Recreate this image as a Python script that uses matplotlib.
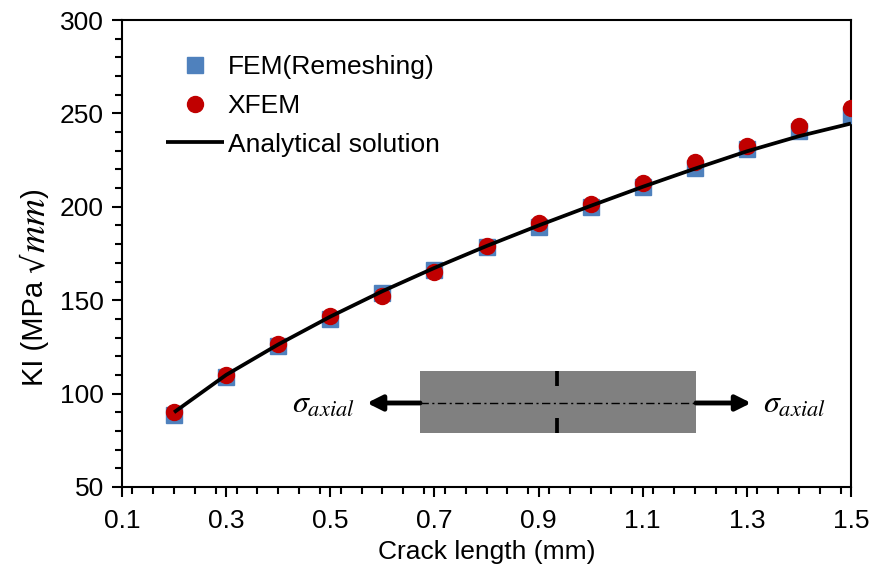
import matplotlib
matplotlib.use("Agg")
import matplotlib.pyplot as plt
from matplotlib.ticker import MultipleLocator, FixedLocator
from matplotlib.patches import Rectangle

plt.rcParams['font.family'] = ['Liberation Sans', 'DejaVu Sans']
plt.rcParams['mathtext.fontset'] = 'stix'

# ---- data ----
crack_len = [0.2, 0.3, 0.4, 0.5, 0.6, 0.7, 0.8, 0.9, 1.0, 1.1, 1.2, 1.3, 1.4, 1.5]
fem_remesh = [88.5, 109, 125.6, 140, 153.7, 166.2, 178.6, 189, 200, 210.5, 220.6, 230.8, 240.5, 249.2]
xfem = [90, 110, 126.5, 141.4, 152.5, 165.2, 179.2, 191.5, 201.5, 213, 224, 232.6, 243, 252.8]
analytical = [90, 110, 126.3, 141.2, 154.8, 167.3, 179.0, 190.0, 200.5, 210.7, 220.4, 229.7, 237.8, 244.6]

x_ticks = [0.1, 0.3, 0.5, 0.7, 0.9, 1.1, 1.3, 1.5]
y_ticks = [50, 100, 150, 200, 250, 300]

fig = plt.figure(figsize=(8.72, 5.70), dpi=100)
ax = fig.add_axes([122/872, 1-487/570, 729/872, 467/570])

ax.plot(crack_len, fem_remesh, linestyle='none', marker='s', markersize=12,
        color='#4F81BD', label='FEM(Remeshing)', zorder=3)
ax.plot(crack_len, xfem, linestyle='none', marker='o', markersize=11.5,
        color='#C00000', label='XFEM', zorder=4)
ax.plot(crack_len, analytical, color='black', linewidth=2.7,
        label='Analytical solution', zorder=5, solid_capstyle='butt')

ax.set_xlim(0.1, 1.5)
ax.set_ylim(50, 300)
ax.xaxis.set_major_locator(FixedLocator(x_ticks))
ax.xaxis.set_minor_locator(MultipleLocator(0.04))
ax.yaxis.set_major_locator(FixedLocator(y_ticks))
ax.yaxis.set_minor_locator(MultipleLocator(10))
ax.set_xticklabels([f'{v:.1f}' for v in x_ticks])
ax.set_yticklabels([str(v) for v in y_ticks])

ax.tick_params(axis='both', which='major', direction='out', length=7, width=1.5,
               labelsize=19, color='black')
ax.tick_params(axis='both', which='minor', direction='out', length=5, width=1.5, color='black')
ax.tick_params(axis='x', which='major', pad=9)
ax.tick_params(axis='y', which='major', pad=6)
for s in ax.spines.values():
    s.set_linewidth(1.5)
    s.set_color('black')

ax.set_xlabel('Crack length (mm)', fontsize=19, labelpad=5)

# y label built from pieces (sans text + larger serif math), stacked bottom-to-top
fig.canvas.draw()
renderer = fig.canvas.get_renderer()
ylab_x = 35 / 872
pieces = [('KI (MPa ', 21, None), ('√', 22, 'DejaVu Serif'), (r'$mm$', 27, None), (')', 21, None)]
cur_y = 386  # pixel from top where the label starts (bottom end)
for txt, fs, fam in pieces:
    kw = dict(rotation=90, ha='center', va='bottom', fontsize=fs)
    if fam:
        kw['family'] = fam
    t = fig.text(ylab_x, 1 - cur_y / 570, txt, **kw)
    bb = t.get_window_extent(renderer)
    cur_y -= bb.height

leg = ax.legend(loc='upper left', bbox_to_anchor=(0.060, 0.925), frameon=False,
                fontsize=19, handlelength=2.2, handletextpad=0.15,
                labelspacing=0.56, borderaxespad=0, borderpad=0)

# ---- inset sketch (axes-fraction coordinates) ----
tr = ax.transAxes
rx0, rx1 = 0.4088, 0.7874
ry0, ry1 = 0.1156, 0.2484
ax.add_patch(Rectangle((rx0, ry0), rx1 - rx0, ry1 - ry0, transform=tr,
                       facecolor='#808080', edgecolor='none', zorder=2))
yc = 0.1799
ax.plot([rx0, rx1], [yc, yc], transform=tr, color='black', linewidth=1.0,
        dashes=(6.0, 2.5, 1.5, 2.5), zorder=2.5)
xc = 0.5967
ax.plot([xc, xc], [0.2163, ry1], transform=tr, color='black', linewidth=2.7,
        solid_capstyle='butt', zorder=2.5)
ax.plot([xc, xc], [ry0, 0.1478], transform=tr, color='black', linewidth=2.7,
        solid_capstyle='butt', zorder=2.5)
ap = dict(arrowstyle='-|>,head_length=0.9,head_width=0.45', lw=3.5, color='black',
          shrinkA=0, shrinkB=0)
ax.annotate('', xy=(0.3360, yc), xytext=(rx0, yc), xycoords=tr, textcoords=tr,
            arrowprops=ap, zorder=2.5)
ax.annotate('', xy=(0.8630, yc), xytext=(rx1, yc), xycoords=tr, textcoords=tr,
            arrowprops=ap, zorder=2.5)
ax.text(0.2760, 0.1756, r'$\sigma_{axial}$', transform=tr, ha='center', va='center',
        fontsize=23)
ax.text(0.9218, 0.1756, r'$\sigma_{axial}$', transform=tr, ha='center', va='center',
        fontsize=23)

fig.savefig('out.png', dpi=100)
